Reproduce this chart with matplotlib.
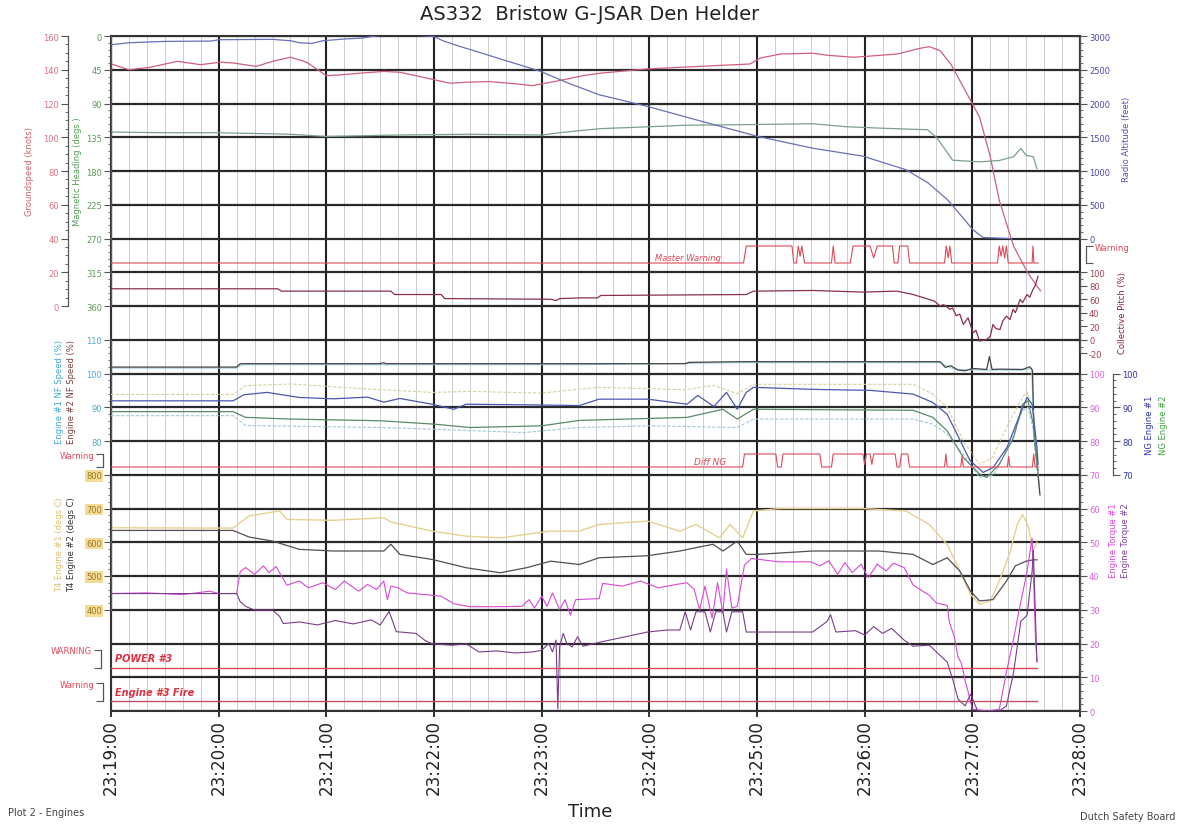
import numpy as np
import matplotlib.pyplot as plt

plt.rcParams['axes.unicode_minus'] = False

# time axis: seconds after 23:19:00
time_labels = ['23:19:00', '23:20:00', '23:21:00', '23:22:00', '23:23:00',
               '23:24:00', '23:25:00', '23:26:00', '23:27:00', '23:28:00']

# groundspeed (knots)
gs_t = [0, 10, 22, 37, 50, 61, 68, 81, 90, 100, 109, 120, 128, 139, 152, 161, 172, 189,
        198, 211, 226, 235, 250, 263, 273, 299, 336, 356, 362, 373, 391, 400, 414, 438,
        450, 456, 462, 468, 475, 484, 490, 495, 503, 511, 516, 518]
gs = [143.5, 140, 141.5, 145, 143, 144.5, 144, 142, 145, 147.4, 144.5, 136.5, 137, 138,
      139, 138.5, 136, 132, 132.6, 133, 131.6, 130.6, 133.6, 136.5, 138, 140.5, 142.4,
      143.4, 147, 149.3, 149.8, 148.5, 147.4, 149.3, 152.5, 153.7, 151.3, 143.4, 129.7,
      112, 88.5, 62.6, 35.4, 19.5, 11.8, 9]

# magnetic heading (degs)
hd_t = [0, 30, 60, 100, 120, 160, 200, 240, 250, 262, 273, 300, 320, 360, 391, 410, 430,
        455, 460, 463, 469, 484, 495, 503, 507, 510, 514, 516]
hd = [128, 129, 129, 131, 134, 132, 131, 132, 129, 126, 123.5, 121, 119, 118, 117, 121,
      123, 125, 135, 145, 165.6, 167.8, 166, 161, 150, 159, 161, 177]

# radio altitude (feet)
ra_t = [0, 10, 30, 56, 60, 90, 100, 105, 112, 118, 130, 140, 150, 172, 180, 185, 193, 205,
        217, 239, 255, 272, 299, 330, 360, 391, 419, 443, 455, 466, 475, 480, 486, 495, 501]
ra = [2870, 2900, 2920, 2925, 2945, 2950, 2930, 2900, 2890, 2930, 2955, 2970, 3010, 3010,
      2990, 2930, 2857, 2760, 2660, 2480, 2300, 2130, 1956, 1730, 1515, 1338, 1220, 1019,
      830, 578, 300, 137, 15, 5, 0]

# master warning discrete (0 = off, 1 = on)
mw_t = [0, 352.5, 354, 379.5, 380.5, 382, 383, 384, 385, 386.5, 401.5, 402.5, 403.5, 412,
        413.5, 423, 425, 427, 435.5, 436.5, 438.5, 439.5, 444, 445, 464.5, 465.5, 466.5,
        467.5, 468.5, 494, 495, 496, 497, 498, 499, 500, 513.3, 513.8, 514.3, 516.6]
mw = [0, 0, 1, 1, 0, 0, 1, 0.4, 1, 0, 0, 1, 0, 0, 1, 1, 0.3, 1, 1, 0, 0, 1, 1, 0, 0, 1,
      0.3, 1, 0, 0, 1, 0.4, 1, 0.3, 1, 0, 0, 1, 0, 0]

# collective pitch (%)
cp_t = [0, 93, 95, 156, 158, 184, 186, 245, 248, 250, 262, 271, 273, 354, 358, 391, 419,
        438, 447, 456, 459, 462, 464, 467.6, 469, 471, 473, 475, 477.6, 480.4, 482, 484,
        488, 490, 491.5, 493, 495.4, 497, 499, 501, 502.7, 504, 506.6, 508, 510.5, 512,
        513.8, 515, 516.6]
cp = [75.5, 75.5, 72, 72, 67, 67, 61, 60, 58, 61, 62, 62, 65.6, 67, 72, 73, 70.6, 72, 67,
      59.7, 57, 50, 52, 45, 47, 35.6, 38, 22.7, 32.6, 10.4, 14, -2, 0.5, 5, 22.7, 17, 15,
      28, 35, 30, 45, 40, 59.7, 55, 67, 63, 74.5, 80, 94]

# NF speed (%)
nf_t = [0, 70, 72, 150, 152, 153, 260, 320, 322, 350, 462, 465, 468, 472, 476, 480, 488,
        489.5, 491, 495, 508, 512, 513.5, 514.5, 517.7]
nf2 = [101.9, 101.9, 102.9, 102.9, 103.2, 102.9, 102.9, 102.9, 103.3, 103.5, 103.5, 101.8,
       102.3, 101.0, 100.8, 101.5, 101.2, 105, 101.2, 101.3, 101.2, 102, 101, 81, 64]
nf1_t = [0, 70, 73, 260, 350, 462, 470, 488, 508, 513, 514.5, 517.5]
nf1 = [101.6, 101.6, 102.6, 102.6, 103.2, 103.2, 101.2, 101, 101, 101.5, 82, 66]

# NG speed (%)
ng_t = [0, 68, 74, 87, 105, 124, 143, 152, 161, 179, 191, 198, 235, 261, 272, 299, 321,
        327, 336, 343, 349, 354, 358, 391, 423, 447, 458, 466, 471.5, 478.7, 486, 491.5,
        499.3, 506.6, 510.5, 513.3, 516, 516.6]
ng1 = [91.9, 91.9, 93.7, 94.4, 92.9, 92.5, 93.0, 91.5, 92.6, 90.9, 89.4, 90.9, 90.7, 90.5,
       92.4, 92.4, 90.9, 93.5, 90.2, 94.4, 89.4, 94.4, 95.9, 95.3, 95.0, 93.9, 91.4, 87.9,
       82, 74.2, 70.7, 72.1, 78.1, 87.9, 92.9, 90.9, 78.1, 73.1]
ng2_t = [0, 68, 75, 100, 150, 180, 200, 240, 261, 321, 341, 349, 358, 447, 458, 466, 475,
         484, 488, 495, 503, 508, 511, 514, 516.6]
ng2 = [88.7, 88.7, 87, 86.5, 86, 85, 84, 84.5, 86.1, 87, 89.4, 86.5, 89.4, 89.1, 87, 83,
       75.1, 70.2, 69.2, 73.1, 81, 90.9, 91.9, 85, 71.2]
ngx_t = [0, 68, 75, 100, 140, 179, 200, 240, 272, 320, 336, 349, 358, 447, 458, 466, 475,
         484, 491, 500, 508, 510.5, 514, 516.6]
ngx = [93.8, 93.8, 96.4, 96.9, 95.5, 94.4, 94.7, 94.2, 95.9, 95.2, 96.5, 94, 96.8, 96.8,
       93.9, 90, 80, 73.1, 75, 85, 93, 94.5, 89, 75]
ngy_t = [0, 68, 75, 150, 179, 230, 261, 300, 349, 358, 447, 458, 466, 475, 484, 492, 500,
         508, 511, 514, 516.6]
ngy = [87.5, 87.5, 84.6, 84, 83.5, 82.5, 84, 84.5, 84, 86.5, 86.5, 85, 82, 76, 69.2, 70,
       78, 89, 90, 83, 70]

# diff NG warning discrete
dn_t = [0, 352, 353, 370.5, 371.5, 373.5, 374.5, 395, 396, 401.5, 402.5, 419, 420, 421,
        423, 424, 425, 437, 438, 439.5, 440.5, 444, 445, 464.5, 465.3, 466, 473.5, 474.2,
        475, 499.5, 500.2, 501, 513.5, 514.2, 515, 516.6]
dn = [0, 0, 1, 1, 0, 0, 1, 1, 0, 0, 1, 1, 0.2, 1, 1, 0.2, 1, 1, 0, 0, 1, 1, 0, 0, 1, 0,
      0, 0.8, 0, 0, 0.8, 0, 0, 1, 0, 0]

# T4 (degs C)
t4a_t = [0, 55, 68, 77, 94, 98, 124, 152, 156, 179, 198, 217, 245, 261, 272, 299, 317,
         326, 339, 345, 352, 358, 373, 419, 443, 456, 466, 473, 479, 484, 490, 495, 501,
         505, 508, 511, 514, 516]
t4a = [643, 642, 642, 678, 692.6, 667.6, 665, 672.6, 660, 633, 618, 613, 633, 633, 652.7,
       662.8, 633, 652.7, 613.3, 652.7, 613.3, 692.6, 700, 700, 692.6, 652.7, 593.5,
       514.8, 445.7, 416, 426, 485, 570, 652.7, 682, 650, 574, 600]
t4b_t = [0, 68, 77, 90, 105, 124, 152, 156, 161, 179, 198, 217, 232, 245, 261, 272, 299,
         317, 326, 335.5, 341, 349, 354, 360, 391, 428, 447, 458, 466, 473, 479, 484,
         491.5, 499, 504, 510, 514, 516]
t4b = [635, 635, 615.4, 603.5, 579, 574, 574, 594, 564, 549, 524.4, 509.6, 525, 544, 534,
       554, 560, 574, 584, 594, 574, 603.5, 564, 564, 574, 574, 564, 534, 554, 514.8, 455,
       426, 430, 485, 530, 544, 548, 548]

# engine torque (%)
tq1_t = [0, 20, 40, 55, 60, 70, 72, 75, 80, 85, 88, 92, 95, 98, 105, 110, 118, 125, 130,
         138, 143, 148, 152, 154, 156, 160, 165, 179, 184, 191, 200, 215, 229, 233, 236,
         240, 243, 246, 250, 253, 256, 259, 272, 274, 285, 295, 305, 315, 321, 325, 328,
         331, 335, 338, 341, 343, 346, 349, 353, 357, 372, 390, 395, 400, 405, 409, 413,
         418, 422, 427, 432, 436, 442, 447, 456, 460, 466, 467, 468, 470, 472, 474, 476,
         478, 480, 488, 495, 499, 503, 506.6, 510.5, 513.3, 514, 515.2, 516]
tq1 = [34.8, 35, 34.5, 35.5, 34.8, 34.8, 41.3, 42.5, 40.5, 43, 41, 42.8, 40, 37.3, 38.5,
       36.5, 38, 36, 38.5, 35.5, 37.5, 36, 38.5, 33, 37, 36.5, 35, 34.3, 34, 31.8, 30.9,
       30.9, 31, 33, 30.5, 34, 31, 35, 30, 33, 28.4, 33, 33.3, 37.8, 37, 38.5, 36.5, 37.5,
       38, 36, 30, 37, 27.5, 38, 29, 42, 30.5, 31, 43.2, 45.2, 44.2, 44.2, 43, 44.5, 40.5,
       44, 41, 43.5, 39.5, 43.5, 41.5, 43.8, 42.5, 37.3, 34.3, 32, 31.3, 27, 25, 22, 16,
       14, 9, 5, 0.6, 0, 0.5, 11.5, 21.4, 31.3, 41.3, 51.2, 41.3, 21.4, 14.6]
tq2_t = [0, 70, 72, 75, 80, 90, 94, 96, 105, 115, 125, 135, 145, 150, 155, 159, 170, 175,
         179, 190, 198, 205, 215, 225, 235, 240, 244, 246, 248, 249, 250, 252, 254, 257,
         260, 263, 272.5, 299, 310, 317, 320, 323, 326, 331, 334, 337, 341, 343, 346, 352,
         354, 358, 372, 391, 399, 401, 404, 415, 420, 425, 430, 435, 442, 447, 456, 458,
         462, 466, 469, 472, 476, 479, 483, 495, 499, 503, 507, 510.5, 513.3, 514, 516]
tq2 = [34.8, 34.8, 32.4, 31, 29.9, 29.9, 28, 25.9, 26.4, 25.5, 26.8, 25.8, 27, 25.5, 29.5,
       23.5, 23, 20.9, 19.9, 19.5, 19.9, 17.5, 17.8, 17.2, 17.5, 18, 20, 17.5, 21, 0.6, 19,
       23, 20, 19, 22, 19.2, 20.4, 23.4, 24, 24, 29.4, 24, 29.4, 29.4, 23.4, 29.4, 29.4,
       23.4, 29.4, 29.4, 23.4, 23.4, 23.4, 23.4, 26.5, 28.5, 23.4, 23.8, 22.5, 25, 23,
       24.5, 21, 19.2, 19.5, 18.5, 16.5, 14.5, 9.5, 3.6, 1.5, 5, 0, 0, 1.5, 11.5, 26.5,
       28.4, 41.3, 47.6, 14.6]

# POWER #3 and engine #3 fire warnings (never set)
pw_t = [0, 516]
pw = [0, 0]
fi_t = [0, 516]
fi = [0, 0]

# ---------------- layout (pixels of the 1204x828 picture) ----------------
W, H = 1204, 828
L, R, T, B = 111, 1080, 37, 712
RED = '#e04858'


def row(k):
    return T + k * (B - T) / 20


def pt(n):
    return n * 72 / 100


def fx(x):
    return x / W


def fy(y):
    return 1 - y / H


def fit(ax, v_a, y_a, v_b, y_b):
    fa = (B - y_a) / (B - T)
    fb = (B - y_b) / (B - T)
    span = (v_b - v_a) / (fb - fa)
    lo = v_a - fa * span
    ax.set_ylim(lo, lo + span)


fig = plt.figure(figsize=(12.04, 8.28), dpi=100)
rect = [fx(L), fy(B), (R - L) / W, (B - T) / H]

base = fig.add_axes(rect)
base.set_xlim(0, 540)
base.set_ylim(0, 20)
base.set_xticks(np.arange(0, 541, 60))
base.set_xticklabels(time_labels, rotation=90, fontsize=12, color='#222')
base.set_xticks(np.arange(0, 541, 10), minor=True)
base.set_yticks(np.arange(0, 21))
base.tick_params(axis='y', left=False, labelleft=False)
base.tick_params(axis='x', which='minor', length=0)
base.tick_params(axis='x', which='major', length=4, width=1.4, color='#333', pad=2)
base.grid(which='minor', axis='x', color='#cccccc', lw=0.7)
base.grid(which='major', axis='x', color='#222222', lw=1.5)
base.grid(which='major', axis='y', color='#2a2a2a', lw=1.6)
base.set_axisbelow(True)
for s in base.spines.values():
    s.set_linewidth(1.5)
    s.set_color('#333333')


def overlay(v_a, y_a, v_b, y_b, side=None, offset=0, bounds=None, ticks=None,
            minor=None, color='k', labels=None):
    ax = fig.add_axes(rect)
    ax.patch.set_visible(False)
    ax.set_xlim(0, 540)
    ax.xaxis.set_visible(False)
    for s in ax.spines.values():
        s.set_visible(False)
    if side is None:
        ax.yaxis.set_visible(False)
    else:
        sp = ax.spines[side]
        sp.set_visible(True)
        sp.set_position(('outward', offset))
        sp.set_bounds(*bounds)
        sp.set_color('#555555')
        sp.set_linewidth(0.9)
        ax.yaxis.set_ticks_position(side)
        ax.set_yticks(ticks)
        if labels is not None:
            ax.set_yticklabels(labels)
        if minor:
            ax.set_yticks(np.arange(bounds[0], bounds[1] + 1e-9, minor), minor=True)
        ax.tick_params(axis='y', which='both', direction='out', labelsize=6,
                       labelcolor=color, colors='#555555', pad=1.5)
        ax.tick_params(axis='y', which='major', length=5, width=0.8)
        ax.tick_params(axis='y', which='minor', length=2.5, width=0.6)
        for lab in ax.get_yticklabels():
            lab.set_color(color)
    fit(ax, v_a, y_a, v_b, y_b)
    return ax


ax_gs = overlay(0, row(8), 160, row(0), 'left', pt(43), (0, 160), range(0, 161, 20), 5, '#e07080')
ax_hd = overlay(0, row(0), 360, row(8), 'left', 0, (0, 360), range(0, 361, 45), 9, '#5a9a5a')
ax_ra = overlay(0, row(6), 3000, row(0), 'right', 0, (0, 3000), range(0, 3001, 500), 100, '#4848b0')
ax_mw = overlay(0, 264, 1, 247, 'right', pt(6), (0, 1), [0, 1], None, RED, ['', 'Warning'])
ax_cp = overlay(0, row(9), 100, row(7), 'right', 0, (-20, 100), range(-20, 101, 20), 10, '#a04050')
ax_nf = overlay(80, row(12), 110, row(9), 'left', 0, (80, 110), range(80, 111, 10), 2, '#50a8d0')
ax_ng = overlay(70, row(13), 100, row(10), 'right', pt(33), (70, 100), range(70, 101, 10), 2, '#3030a0')
ax_dn = overlay(0, 468, 1, 455, 'left', pt(8), (0, 1), [0, 1], None, RED, ['', 'Warning'])
ax_t4 = overlay(400, row(17), 800, row(13), 'left', 0, (400, 800), range(400, 801, 100), 20, '#a07820')
ax_tq = overlay(0, row(20), 100, row(10), 'right', 0, (0, 100), range(0, 101, 10), 2, '#e060e0')
ax_pw = overlay(0, 669, 1, 651, 'left', pt(10), (0, 1), [0, 1], None, RED, ['', 'WARNING'])
ax_fi = overlay(0, 702, 1, 684, 'left', pt(8), (0, 1), [0, 1], None, RED, ['', 'Warning'])

for lab in ax_t4.get_yticklabels():
    lab.set_bbox(dict(boxstyle='square,pad=0.15', fc='#f2dc98', ec='none'))

# traces
ax_hd.plot(hd_t, hd, color='#7aa088', lw=0.9)
ax_ra.plot(ra_t, ra, color='#6870b8', lw=0.9)
ax_gs.plot(gs_t, gs, color='#d0607a', lw=0.9)
ax_mw.plot(mw_t, mw, color=RED, lw=0.8)
ax_cp.plot(cp_t, cp, color='#8a3048', lw=0.9)

ax_ng.plot(ngx_t, ngx, color='#d8d0a0', lw=0.8, ls=(0, (3, 1.5)))
ax_ng.plot(ngy_t, ngy, color='#a0c8d8', lw=0.8, ls=(0, (3, 1.5)))
ax_ng.plot(ng2_t, ng2, color='#5a8a6a', lw=0.9)
ax_ng.plot(ng_t, ng1, color='#4a58b0', lw=0.9)
ax_nf.plot(nf1_t, nf1, color='#9cd0e0', lw=0.8)
ax_nf.plot(nf_t, nf2, color='#444444', lw=0.9)
ax_dn.plot(dn_t, dn, color=RED, lw=0.8)

ax_t4.plot(t4a_t, t4a, color='#e8d090', lw=1.0)
ax_t4.plot(t4b_t, t4b, color='#505050', lw=0.9)
ax_tq.plot(tq1_t, tq1, color='#d848d8', lw=0.8)
ax_tq.plot(tq2_t, tq2, color='#7a3c8c', lw=0.8)
ax_pw.plot(pw_t, pw, color=RED, lw=1.0)
ax_fi.plot(fi_t, fi, color='#c05060', lw=1.0)

# labels inside the plot
ax_mw.text(340, 0.3, 'Master Warning', ha='right', va='center', fontsize=6,
           style='italic', color=RED)
ax_dn.text(343, 0.45, 'Diff NG', ha='right', va='center', fontsize=6.5,
           style='italic', color=RED)
ax_pw.text(2, 0.55, 'POWER #3', ha='left', va='center', fontsize=7,
           style='italic', weight='bold', color='#e03040')
ax_fi.text(2, 0.5, 'Engine #3 Fire', ha='left', va='center', fontsize=7,
           style='italic', weight='bold', color='#e03040')

# axis titles
side_labels = [
    (30, 172, 'Groundspeed (knots)', '#d06070'),
    (78, 172, 'Magnetic Heading (degs.)', '#50a050'),
    (60, 392, 'Engine #1 NF Speed (%)', '#40a8d8'),
    (72, 392, 'Engine #2 NF Speed (%)', '#7a3c3c'),
    (60, 545, 'T4 Engine #1 (degs C)', '#e0c070'),
    (72, 545, 'T4 Engine #2 (degs C)', '#303030'),
    (1127, 139, 'Radio Altitude (feet)', '#5050b0'),
    (1122, 313, 'Collective Pitch (%)', '#8b2040'),
    (1113, 541, 'Engine Torque #1', '#e040e0'),
    (1125, 541, 'Engine Torque #2', '#8040a0'),
    (1150, 425, 'NG Engine #1', '#3030b0'),
    (1163, 425, 'NG Engine #2', '#40a040'),
]
for x, y, s, c in side_labels:
    fig.text(fx(x), fy(y), s, rotation=90, ha='center', va='center', fontsize=6, color=c)

fig.text(fx(590), fy(15), 'AS332  Bristow G-JSAR Den Helder', ha='center', va='center',
         fontsize=14, color='#222')
fig.text(fx(590), fy(812), 'Time', ha='center', va='center', fontsize=13, color='#222')
fig.text(fx(8), fy(813), 'Plot 2 - Engines', ha='left', va='center', fontsize=7, color='#444')
fig.text(fx(1175), fy(817), 'Dutch Safety Board', ha='right', va='center', fontsize=7,
         color='#444')

fig.savefig('out.png', dpi=100)
